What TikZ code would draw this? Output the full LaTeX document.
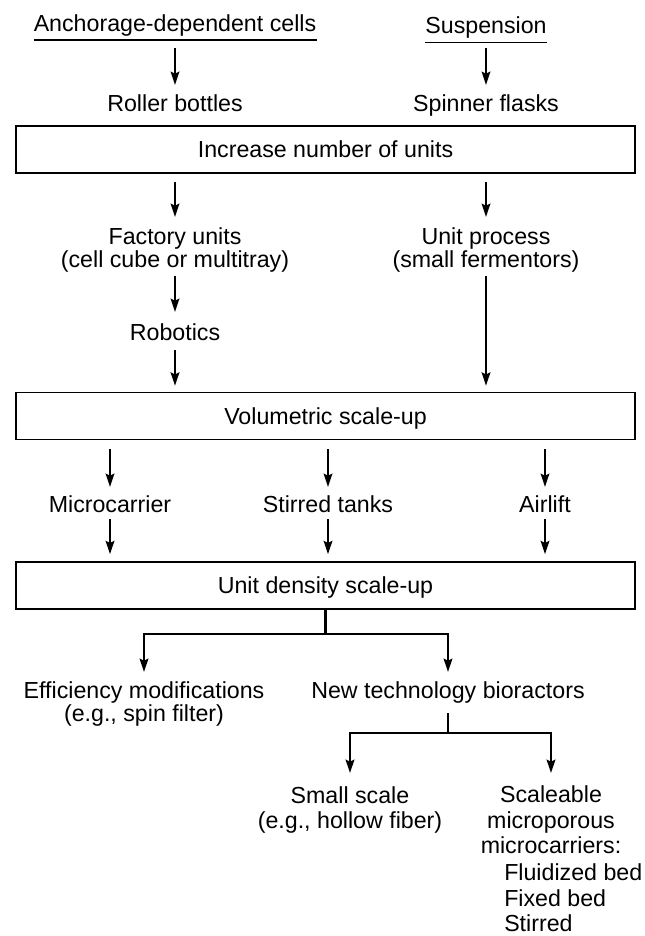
\documentclass[tikz,border=0pt]{standalone}
\usepackage{fontspec}
\setmainfont{Liberation Sans}
\usetikzlibrary{arrows.meta,calc}
\begin{document}
\begin{tikzpicture}[x=0.75pt,y=-0.75pt,
  every node/.style={font=\fontsize{17.4pt}{22pt}\selectfont, inner sep=0pt},
  lbl/.style={anchor=base},
  lst/.style={anchor=base west},
  boxn/.style={draw, line width=1.1pt, minimum width=464.25pt, minimum height=35.25pt, text height=12.6pt, text depth=0pt},
  arr/.style={line width=1.5pt, -{Stealth[length=10pt,width=6.5pt,inset=1.5pt]}},
  brl/.style={line width=1.8pt, line join=miter},
  ul/.style={line width=1pt}]
\useasboundingbox (0,0) rectangle (645,936);

% headings
\node[lbl] (anch) at (175,31) {Anchorage-dependent cells};
\node[lbl] (susp) at (486,33) {Suspension};
\draw[ul] ($(anch.base west)+(0,9)$) -- ($(anch.base east)+(0,9)$);
\draw[ul] ($(susp.base west)+(0,9.5)$) -- ($(susp.base east)+(0,9.5)$);

\node[lbl] (roll) at (175,111) {Roller bottles};
\node[lbl] (spin) at (486,111) {Spinner flasks};
\draw[arr] ($(anch.base)+(0,17)$) -- ($(roll.base)+(0,-26)$);
\draw[arr] ($(susp.base)+(0,15)$) -- ($(spin.base)+(0,-26)$);

\node[boxn] (b1) at (325.5,149.5) {Increase number of units};

\node[lbl] (fac1) at (175,244) {Factory units};
\node[lbl] (fac2) at (175,267) {(cell cube or multitray)};
\node[lbl] (up1) at (486,244) {Unit process};
\node[lbl] (up2) at (486,267) {(small fermentors)};
\draw[arr] ($(fac1.base |- b1.south)+(0,8)$) -- ($(fac1.base)+(0,-27)$);
\draw[arr] ($(up1.base |- b1.south)+(0,8)$) -- ($(up1.base)+(0,-27)$);

\node[lbl] (rob) at (175,340) {Robotics};
\draw[arr] ($(fac2.base)+(0,9)$) -- ($(rob.base)+(0,-28)$);

\node[boxn] (b2) at (325.5,416) {Volumetric scale-up};
\draw[arr] ($(rob.base)+(0,10)$) -- ($(rob.base |- b2.north)+(0,-6)$);
\draw[arr] ($(up2.base)+(0,9)$) -- ($(up2.base |- b2.north)+(0,-6)$);

\node[lbl] (mc) at (110,512) {Microcarrier};
\node[lbl] (st) at (328,512) {Stirred tanks};
\node[lbl] (al) at (545,512) {Airlift};
\foreach \n in {mc,st,al}{
  \draw[arr] ($(\n.base |- b2.south)+(0,9)$) -- ($(\n.base)+(0,-25)$);
}

\node[boxn] (b3) at (325.5,585.5) {Unit density scale-up};
\foreach \n in {mc,st,al}{
  \draw[arr] ($(\n.base)+(0,7)$) -- ($(\n.base |- b3.north)+(0,-7)$);
}

\node[lbl] (eff1) at (144,698) {Efficiency modifications};
\node[lbl] (eff2) at (144,721) {(e.g., spin filter)};
\node[lbl] (new) at (448,698) {New technology bioractors};
\coordinate (j1) at ($(b3.south)+(0,24)$);
\draw[brl] (b3.south) -- (j1);
\draw[arr,brl] (j1) -| ($(eff1.base)+(0,-26)$);
\draw[arr,brl] (j1) -| ($(new.base)+(0,-26)$);

\node[lbl] (sm1) at (350,803) {Small scale};
\node[lbl] (sm2) at (350,828) {(e.g., hollow fiber)};
\node[lbl] (sc1) at (551,802) {Scaleable};
\node[lbl] (sc2) at (551,828) {microporous};
\node[lbl] (sc3) at (551,853) {microcarriers:};
\node[lst] (li1) at (504,880) {Fluidized bed};
\node[lst] (li2) at (504,906) {Fixed bed};
\node[lst] (li3) at (504,931) {Stirred};

\coordinate (n0) at ($(new.base)+(0,15)$);
\coordinate (j2) at ($(new.base)+(0,35)$);
\draw[brl] (n0) -- (j2);
\draw[arr,brl] (j2) -| ($(sm1.base)+(0,-30)$);
\draw[arr,brl] (j2) -| ($(sc1.base)+(0,-29)$);
\end{tikzpicture}
\end{document}
